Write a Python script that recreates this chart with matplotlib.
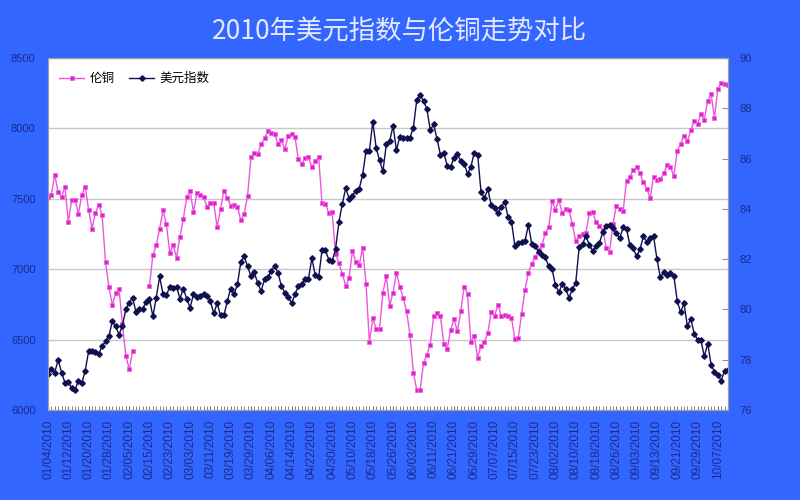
import numpy as np
import matplotlib
matplotlib.use('Agg')
import matplotlib.pyplot as plt

plt.rcParams['font.family'] = ['Liberation Sans', 'Noto Sans CJK SC', 'DejaVu Sans']

nan = np.nan

# LME copper (left axis), one value per business day from 01/04/2010
copper = [
    7511, 7530, 7671, 7546, 7511, 7586, 7335, 7492, 7492, 7393,
    7530, 7586, 7422, 7288, 7398, 7459, 7382, 7052, 6876, 6747,
    6829, 6857, 6610, 6387, 6288, 6418, nan, nan, nan, nan,
    6881, 7100, 7170, 7288, 7417, 7318, 7116, 7170, 7083, 7229,
    7358, 7511, 7558, 7405, 7539, 7530, 7511, 7445, 7469, 7469,
    7299, 7429, 7558, 7506, 7452, 7459, 7445, 7346, 7393, 7523,
    7798, 7828, 7817, 7887, 7929, 7981, 7969, 7958, 7892, 7915,
    7852, 7946, 7958, 7939, 7781, 7746, 7793, 7798, 7723, 7770,
    7798, 7469, 7464, 7398, 7403, 7110, 7041, 6966, 6881, 6935,
    7130, 7052, 7029, 7154, 6895, 6481, 6653, 6575, 6575, 6834,
    6951, 6740, 6834, 6975, 6876, 6794, 6700, 6535, 6265, 6143,
    6143, 6335, 6394, 6465, 6665, 6688, 6665, 6472, 6434, 6566,
    6646, 6559, 6700, 6876, 6824, 6481, 6528, 6371, 6458, 6481,
    6547, 6693, 6669, 6747, 6665, 6676, 6665, 6653, 6505, 6512,
    6683, 6855, 6975, 7040, 7085, 7137, 7170, 7257, 7299, 7483,
    7422, 7492, 7398, 7426, 7422, 7318, 7201, 7234, 7252, 7257,
    7398, 7405, 7335, 7304, 7276, 7154, 7123, 7323, 7450, 7429,
    7412, 7628, 7657, 7704, 7723, 7680, 7617, 7570, 7506, 7657,
    7633, 7640, 7680, 7741, 7723, 7664, 7840, 7892, 7948, 7911,
    7986, 8052, 8033, 8103, 8063, 8197, 8244, 8075, 8282, 8322,
    8315, 8310,
]

# US dollar index (right axis)
dollar = [
    77.44, 77.63, 77.49, 78.00, 77.49, 77.09, 77.13, 76.87, 76.80, 77.17,
    77.07, 77.57, 78.33, 78.33, 78.29, 78.24, 78.53, 78.73, 78.93, 79.53,
    79.33, 79.00, 79.36, 80.00, 80.27, 80.47, 79.89, 80.00, 80.03, 80.29,
    80.40, 79.73, 80.47, 81.31, 80.60, 80.56, 80.91, 80.87, 80.91, 80.43,
    80.83, 80.43, 80.07, 80.60, 80.51, 80.53, 80.60, 80.53, 80.33, 79.84,
    80.24, 79.76, 79.76, 80.33, 80.83, 80.60, 81.00, 81.89, 82.11, 81.71,
    81.31, 81.47, 81.04, 80.73, 81.20, 81.27, 81.53, 81.73, 81.44, 80.93,
    80.67, 80.51, 80.24, 80.60, 80.93, 81.00, 81.20, 81.23, 82.03, 81.36,
    81.27, 82.36, 82.36, 81.97, 81.93, 82.40, 83.49, 84.20, 84.83, 84.40,
    84.53, 84.73, 84.80, 85.36, 86.29, 86.29, 87.47, 86.43, 85.93, 85.49,
    86.56, 86.69, 87.31, 86.33, 86.87, 86.80, 86.80, 86.83, 87.23, 88.33,
    88.53, 88.29, 87.97, 87.13, 87.36, 86.77, 86.16, 86.24, 85.71, 85.67,
    86.03, 86.20, 85.89, 85.80, 85.40, 85.67, 86.24, 86.16, 84.67, 84.43,
    84.77, 84.16, 84.03, 83.84, 84.07, 84.29, 83.67, 83.49, 82.53, 82.64,
    82.67, 82.73, 83.36, 82.60, 82.53, 82.27, 82.16, 82.07, 81.71, 81.60,
    80.96, 80.69, 81.00, 80.83, 80.47, 80.80, 81.07, 82.47, 82.60, 82.93,
    82.56, 82.33, 82.53, 82.64, 83.09, 83.33, 83.36, 83.23, 83.04, 82.83,
    83.27, 83.20, 82.56, 82.43, 82.11, 82.40, 82.91, 82.69, 82.83, 82.91,
    82.00, 81.27, 81.49, 81.36, 81.44, 81.33, 80.33, 79.89, 80.24, 79.33,
    79.63, 79.04, 78.80, 78.77, 78.13, 78.64, 77.80, 77.53, 77.40, 77.17,
    77.57, 77.60,
]

# every 6th business day is labelled
date_labels = [
    '01/04/2010', '01/12/2010', '01/20/2010', '01/28/2010', '02/05/2010',
    '02/15/2010', '02/23/2010', '03/03/2010', '03/11/2010', '03/19/2010',
    '03/29/2010', '04/06/2010', '04/14/2010', '04/22/2010', '04/30/2010',
    '05/10/2010', '05/18/2010', '05/26/2010', '06/03/2010', '06/11/2010',
    '06/21/2010', '06/29/2010', '07/07/2010', '07/15/2010', '07/23/2010',
    '08/02/2010', '08/10/2010', '08/18/2010', '08/26/2010', '09/03/2010',
    '09/13/2010', '09/21/2010', '09/29/2010', '10/07/2010',
]

bg = '#3366ff'
navy = '#1c2a8c'

x = np.arange(len(copper))

fig = plt.figure(figsize=(8, 5), dpi=100, facecolor=bg)
ax = fig.add_axes([0.06, 0.18, 0.85, 0.704])
ax2 = ax.twinx()

# copper on the left axis
l1, = ax.plot(x, copper, color='#ee55dd', lw=1.0, marker='s', ms=3.5,
              mfc='#dd22cc', mec='#ee66e0', mew=0.6, label='伦铜')
# dollar index on the right axis
l2, = ax2.plot(x, dollar, color='#101050', lw=1.0, marker='D', ms=2.8,
               mfc='#101050', mec='#101050', label='美元指数')

ax.set_xlim(0, len(copper) - 1)
ax.set_ylim(6000, 8500)
ax.set_yticks(np.arange(6000, 8501, 500))
ax2.set_ylim(76, 90)
ax2.set_yticks(np.arange(76, 91, 2))

ax.yaxis.grid(True, color='#c8c8c8', lw=1)
ax.set_axisbelow(True)

ax.set_xticks(x[::6])
ax.set_xticklabels(date_labels, rotation=90)
ax.set_xticks(x, minor=True)

ax.tick_params(axis='y', length=0, pad=9, labelsize=8, labelcolor=navy)
ax.tick_params(axis='x', which='both', direction='in', length=3,
               color='#707070', pad=7, labelsize=8.5, labelcolor=navy)
ax2.tick_params(axis='y', direction='in', length=4, color='#909090',
                pad=8, labelsize=8, labelcolor=navy)

for a in (ax, ax2):
    for s in a.spines.values():
        s.set_color('#a0a0a0')
        s.set_linewidth(0.8)

ax2.legend(handles=[l1, l2], loc='upper left', bbox_to_anchor=(0.0, 0.99),
           ncol=2, frameon=False, fontsize=9, handlelength=2.0,
           columnspacing=1.2, handletextpad=0.4)

fig.text(0.5, 0.936, '2010年美元指数与伦铜走势对比', ha='center', va='center',
         fontsize=19, color='#e6e8ff', family=['Noto Sans CJK SC', 'DejaVu Sans'])

fig.savefig('out.png', dpi=100, facecolor=bg)
